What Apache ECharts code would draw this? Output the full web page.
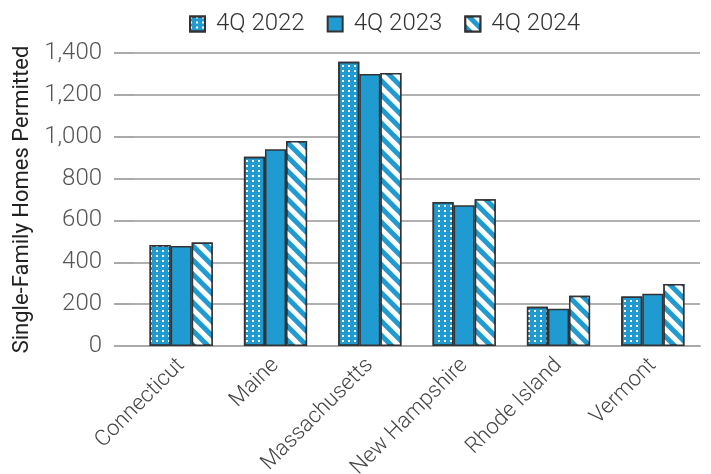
<!DOCTYPE html>
<html>
<head>
<meta charset="utf-8">
<script src="https://cdn.jsdelivr.net/npm/echarts@6/dist/echarts.min.js"></script>
<style>
  html, body { margin: 0; padding: 0; background: #fff; }
  #main { width: 711px; height: 474px; }
</style>
</head>
<body>
<div id="main"></div>
<script>
// 州名
var states = ['Connecticut', 'Maine', 'Massachusetts', 'New Hampshire', 'Rhode Island', 'Vermont'];
// 各季度数据
var q2022 = [482, 904, 1358, 688, 188, 236];
var q2023 = [478, 940, 1300, 672, 178, 250];
var q2024 = [495, 980, 1305, 701, 240, 296];

var blue = '#1f9bd1';
var font = 'Roboto, "Liberation Sans", sans-serif';

var dots = { // 白点
  symbol: 'rect', symbolSize: 1, color: '#fff',
  dashArrayX: [2, 4], dashArrayY: [2, 3]
};
var stripes = { // 斜线
  symbol: 'rect', symbolSize: 1, color: '#fff',
  dashArrayX: [1, 0], dashArrayY: [5, 5], rotation: Math.PI / 4
};

function bar(name, data, decal) {
  var s = {
    name: name, type: 'bar', data: data,
    barGap: '0%', barCategoryGap: '33%',
    itemStyle: { color: blue, borderColor: '#333', borderWidth: 1.5 }
  };
  if (decal) s.itemStyle.decal = decal;
  return s;
}

var myChart = echarts.init(document.getElementById('main'));
var option = {
  animation: false,
  textStyle: { fontFamily: font },
  legend: {
    top: 7, left: 184,
    icon: 'rect',
    itemWidth: 15, itemHeight: 15, itemGap: 22,
    textStyle: { fontSize: 24, color: '#333', fontWeight: 300, fontFamily: font, padding: [0, 0, 0, 6] },
    data: ['4Q 2022', '4Q 2023', '4Q 2024']
  },
  grid: { left: 134, right: 11, top: 53, bottom: 128, outerBoundsMode: 'none', containLabel: false },
  xAxis: {
    type: 'category', data: states,
    axisLine: { lineStyle: { color: '#aaa', width: 2 } },
    axisTick: { show: false },
    axisLabel: { rotate: 45, fontSize: 22, color: '#444', fontWeight: 300, margin: 16, fontFamily: font }
  },
  yAxis: {
    type: 'value', min: 0, max: 1400, interval: 200,
    name: 'Single-Family Homes Permitted', nameLocation: 'middle', nameGap: 88,
    nameTextStyle: { fontSize: 22, color: '#222', fontFamily: font },
    axisLine: { show: false },
    axisTick: { show: true, length: 20, lineStyle: { color: '#aaa', width: 2 } },
    splitLine: { lineStyle: { color: '#b0b0b0', width: 2 } },
    axisLabel: {
      fontSize: 24, color: '#555', fontWeight: 300, margin: 32, fontFamily: font,
      formatter: function (v) { return v.toLocaleString('en-US'); }
    }
  },
  series: [
    bar('4Q 2022', q2022, dots),
    bar('4Q 2023', q2023, null),
    bar('4Q 2024', q2024, stripes)
  ]
};
myChart.setOption(option);
</script>
</body>
</html>
